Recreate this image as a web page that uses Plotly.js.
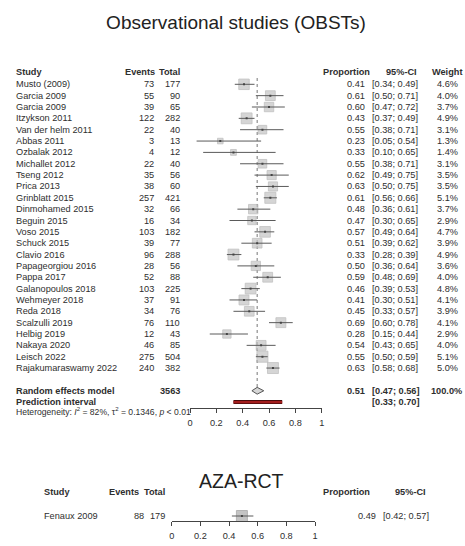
<!DOCTYPE html>
<html>
<head>
<meta charset="utf-8">
<script src="https://cdn.plot.ly/plotly-3.0.1.min.js"></script>
<style>html,body{margin:0;padding:0;background:#fff}#chart{width:465px;height:546px}</style>
</head>
<body>
<div id="chart"></div>
<script>
// ---------- data ----------
var studies = ["Musto (2009)","Garcia 2009","Garcia 2009","Itzykson 2011","Van der helm 2011","Abbas 2011","Ozbalak 2012","Michallet 2012","Tseng 2012","Prica 2013","Grinblatt 2015","Dinmohamed 2015","Beguin 2015","Voso 2015","Schuck 2015","Clavio 2016","Papageorgiou 2016","Pappa 2017","Galanopoulos 2018","Wehmeyer 2018","Reda 2018","Scalzulli 2019","Helbig 2019","Nakaya 2020","Leisch 2022","Rajakumaraswamy 2022"];
var events = [73,55,39,122,22,3,4,22,35,38,257,32,16,103,39,96,28,52,103,37,34,76,12,46,275,240];
var totals = [177,90,65,282,40,13,12,40,56,60,421,66,34,182,77,288,56,88,225,91,76,110,43,85,504,382];
var props  = [0.41,0.61,0.60,0.43,0.55,0.23,0.33,0.55,0.62,0.63,0.61,0.48,0.47,0.57,0.51,0.33,0.50,0.59,0.46,0.41,0.45,0.69,0.28,0.54,0.55,0.63];
var lower  = [0.34,0.50,0.47,0.37,0.38,0.05,0.10,0.38,0.49,0.50,0.56,0.36,0.30,0.49,0.39,0.28,0.36,0.48,0.39,0.30,0.33,0.60,0.15,0.43,0.50,0.58];
var upper  = [0.49,0.71,0.72,0.49,0.71,0.54,0.65,0.71,0.75,0.75,0.66,0.61,0.65,0.64,0.62,0.39,0.64,0.69,0.53,0.51,0.57,0.78,0.44,0.65,0.59,0.68];
var weights= [4.6,4.0,3.7,4.9,3.1,1.3,1.4,3.1,3.5,3.5,5.1,3.7,2.9,4.7,3.9,4.9,3.6,4.0,4.8,4.1,3.9,4.1,2.9,4.0,5.1,5.0];
var pooledTotal = 3563, pooledEst = 0.51, pooledLo = 0.47, pooledHi = 0.56, pooledWeight = 100.0;
var predLo = 0.33, predHi = 0.70;
var hetI2 = "82%", hetTau2 = "0.1346", hetP = "< 0.01";
var tickVals = [0,0.2,0.4,0.6,0.8,1];
var tickText = ["0","0.2","0.4","0.6","0.8","1"];

var rctStudies = ["Fenaux 2009"];
var rctEvents = [88];
var rctTotals = [179];
var rctProps = [0.49];
var rctLower = [0.42];
var rctUpper = [0.57];

// ---------- layout helpers ----------
var W = 465, H = 546;
var ROW0 = 84.3, ROWH = 11.35;
function px(x){ return x / W; }
function rowPix(r){ return ROW0 + (r - 1) * ROWH; }
function rowPaper(r){ return 1 - rowPix(r) / H; }
var FONT = "Arial, 'Liberation Sans', sans-serif";
var TXT = "#2e2e2e";
var FS = 9.2;
var n = studies.length;
var rows = studies.map(function(_, i){ return i + 1; });
var rowRandom = n + 2, rowPred = n + 3, rowHet = n + 4;

function f2(v){ return v.toFixed(2); }
function ci(lo, hi){ return "[" + f2(lo) + "; " + f2(hi) + "]"; }

var ann = [];
function t(text, xPix, yPaper, anchor, opts){
  opts = opts || {};
  ann.push({text: text, xref: "paper", yref: "paper", x: px(xPix), y: yPaper,
    xanchor: anchor, yanchor: "middle", showarrow: false,
    font: {family: FONT, size: opts.size || FS, color: opts.color || TXT}});
}

// main header
var yHead = 1 - 72 / H;
t("<b>Study</b>", 14, yHead, "left");
t("<b>Events</b>", 157, yHead, "right");
t("<b>Total</b>", 182, yHead, "right");
t("<b>Proportion</b>", 372, yHead, "right");
t("<b>95%-CI</b>", 419, yHead, "right");
t("<b>Weight</b>", 464, yHead, "right");

for (var i = 0; i < n; i++) {
  var yy = rowPaper(rows[i]);
  t(studies[i], 14, yy, "left");
  t(String(events[i]), 156, yy, "right");
  t(String(totals[i]), 182, yy, "right");
  t(f2(props[i]), 367, yy, "right");
  t(ci(lower[i], upper[i]), 370, yy, "left");
  t(weights[i].toFixed(1) + "%", 460, yy, "right");
}
var yR = rowPaper(rowRandom);
t("<b>Random effects model</b>", 14, yR, "left");
t("<b>" + pooledTotal + "</b>", 182, yR, "right");
t("<b>" + f2(pooledEst) + "</b>", 367, yR, "right");
t("<b>" + ci(pooledLo, pooledHi) + "</b>", 370, yR, "left");
t("<b>" + pooledWeight.toFixed(1) + "%</b>", 464, yR, "right");
var yP = rowPaper(rowPred);
t("<b>Prediction interval</b>", 14, yP, "left");
t("<b>" + ci(predLo, predHi) + "</b>", 370, yP, "left");
t("Heterogeneity: <i>I</i><sup>2</sup> = " + hetI2 + ", τ<sup>2</sup> = " + hetTau2 + ", <i>p</i> " + hetP,
  14, 1 - (rowPix(rowHet) - 2) / H, "left", {size: 8.6});

// RCT panel text
ann.push({text: "AZA-RCT", xref: "paper", yref: "paper", x: px(241.5), y: 1 - 481 / H,
  xanchor: "center", yanchor: "middle", showarrow: false,
  font: {family: FONT, size: 19.5, color: "#222"}});
var yH2 = 1 - 492 / H;
t("<b>Study</b>", 42, yH2, "left");
t("<b>Events</b>", 141, yH2, "right");
t("<b>Total</b>", 167, yH2, "right");
t("<b>Proportion</b>", 372, yH2, "right");
t("<b>95%-CI</b>", 428, yH2, "right");
var RROW = 516;
for (var j = 0; j < rctStudies.length; j++) {
  var y2p = 1 - (RROW + j * ROWH) / H;
  t(rctStudies[j], 42, y2p, "left");
  t(String(rctEvents[j]), 146, y2p, "right");
  t(String(rctTotals[j]), 167, y2p, "right");
  t(f2(rctProps[j]), 378, y2p, "right");
  t(ci(rctLower[j], rctUpper[j]), 381, y2p, "left");
}

// ---------- traces ----------
var SQK = 4.9;
var ciX = [], ciY = [];
for (var k = 0; k < n; k++) { ciX.push(lower[k], upper[k], null); ciY.push(rows[k], rows[k], null); }

var traces = [
  {type: "scatter", mode: "markers", x: props, y: rows, xaxis: "x", yaxis: "y",
   marker: {symbol: "square", size: weights.map(function(w){ return SQK * Math.sqrt(w); }),
            color: "#c4c4c4", line: {color: "#a8a8a8", width: 0.8}}, hoverinfo: "skip"},
  {type: "scatter", mode: "lines", x: ciX, y: ciY, xaxis: "x", yaxis: "y",
   line: {color: "#5a5a5a", width: 1}, hoverinfo: "skip"},
  {type: "scatter", mode: "markers", x: props, y: rows, xaxis: "x", yaxis: "y",
   marker: {symbol: "square", size: 2, color: "#444"}, hoverinfo: "skip"},
  {type: "scatter", mode: "lines", fill: "toself", fillcolor: "#d6d6d6",
   x: [pooledLo, pooledEst, pooledHi, pooledEst, pooledLo],
   y: [rowRandom, rowRandom - 0.3, rowRandom, rowRandom + 0.3, rowRandom],
   xaxis: "x", yaxis: "y", line: {color: "#555", width: 1}, hoverinfo: "skip"},
  {type: "scatter", mode: "lines", x: [predLo, predHi], y: [rowPred, rowPred], xaxis: "x", yaxis: "y",
   line: {color: "#4a0a0a", width: 4}, hoverinfo: "skip"},
  {type: "scatter", mode: "lines", x: [predLo, predHi], y: [rowPred, rowPred], xaxis: "x", yaxis: "y",
   line: {color: "#a31d1d", width: 2.4}, hoverinfo: "skip"}
];
// RCT
var rctRows = rctStudies.map(function(_, i){ return i + 1; });
traces.push(
  {type: "scatter", mode: "markers", x: rctProps, y: rctRows, xaxis: "x2", yaxis: "y2",
   marker: {symbol: "square", size: 11, color: "#c4c4c4", line: {color: "#a8a8a8", width: 0.8}}, hoverinfo: "skip"},
  {type: "scatter", mode: "lines", x: [rctLower[0], rctUpper[0]], y: [rctRows[0], rctRows[0]], xaxis: "x2", yaxis: "y2",
   line: {color: "#5a5a5a", width: 1}, hoverinfo: "skip"},
  {type: "scatter", mode: "markers", x: rctProps, y: rctRows, xaxis: "x2", yaxis: "y2",
   marker: {symbol: "square", size: 2, color: "#444"}, hoverinfo: "skip"}
);

// ---------- axes ----------
var mainTop = 78, mainBot = 408;
var rRange = [(mainBot - ROW0) / ROWH + 1, (mainTop - ROW0) / ROWH + 1];
var rctTop = 508, rctBot = 521;
var r2Range = [1 + (rctBot - RROW) / ROWH, 1 + (rctTop - RROW) / ROWH];

function xAxis(domain, anchor){
  return {domain: domain, range: [0, 1], anchor: anchor, showline: true, linecolor: "#444", linewidth: 1,
    ticks: "outside", ticklen: 4, tickcolor: "#444", tickwidth: 1, tickvals: tickVals, ticktext: tickText,
    ticklabelstandoff: 2,
    showgrid: false, zeroline: false, fixedrange: true,
    tickfont: {family: FONT, size: FS, color: TXT}};
}

var layout = {
  width: W, height: H, margin: {l: 0, r: 0, t: 0, b: 0},
  paper_bgcolor: "#fff", plot_bgcolor: "rgba(0,0,0,0)", showlegend: false,
  title: {text: "Observational studies (OBSTs)", x: px(236), xref: "paper", xanchor: "center",
          y: 1 - 22 / H, yref: "paper", yanchor: "middle",
          font: {family: FONT, size: 19, color: "#222"}},
  xaxis: xAxis([px(190), px(321.7)], "y"),
  yaxis: {domain: [1 - mainBot / H, 1 - mainTop / H], range: rRange, visible: false, fixedrange: true},
  xaxis2: xAxis([px(171.7), px(315)], "y2"),
  yaxis2: {domain: [1 - rctBot / H, 1 - rctTop / H], range: r2Range, visible: false, fixedrange: true},
  shapes: [
    {type: "line", xref: "x", yref: "y", x0: pooledEst, x1: pooledEst, y0: rRange[1], y1: rowRandom - 0.3,
     line: {color: "#777", width: 1, dash: "dot"}, layer: "below"}
  ],
  annotations: ann
};

Plotly.newPlot("chart", traces, layout, {staticPlot: true, displayModeBar: false});
</script>
</body>
</html>
